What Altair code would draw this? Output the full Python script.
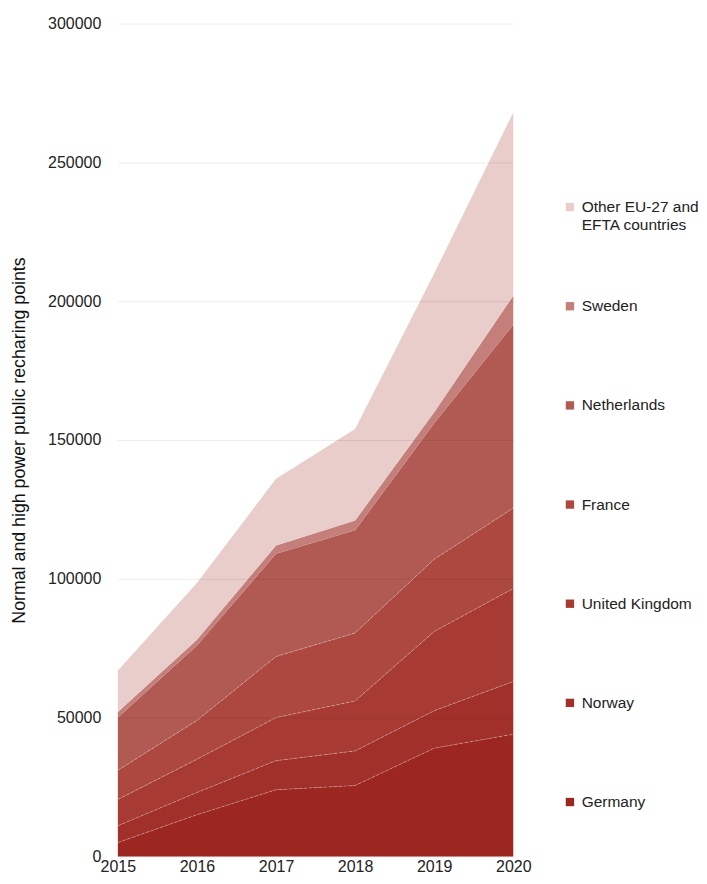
import altair as alt
import pandas as pd

years = [2015, 2016, 2017, 2018, 2019, 2020]
series = ["Germany", "Norway", "United Kingdom", "France", "Netherlands", "Sweden",
          "Other EU-27 and EFTA countries"]
germany = [5000, 15000, 24000, 25500, 39000, 44000]
norway = [6000, 8000, 10500, 12500, 13500, 19000]
uk = [9500, 12000, 15500, 18000, 28500, 33500]
france = [10500, 14000, 22000, 24500, 26000, 29000]
netherlands = [19000, 27000, 37000, 37000, 49000, 66000]
sweden = [2000, 2000, 3000, 3500, 4000, 10500]
other = [15000, 20500, 24000, 33000, 50000, 66000]
values = [germany, norway, uk, france, netherlands, sweden, other]
colors = ["#9C2620", "#A2302A", "#A73B34", "#AC4840", "#B15A53", "#C47F7A", "#E8CDCB"]
y_ticks = [0, 50000, 100000, 150000, 200000, 250000, 300000]

rows = []
for i, (name, vals) in enumerate(zip(series, values)):
    for yr, v in zip(years, vals):
        rows.append({"year": yr, "series": name, "value": v, "order": i})
df = pd.DataFrame(rows)

FONT = "Liberation Sans"

base = alt.Chart(df).transform_stack(
    stack="value", groupby=["year"], as_=["y0", "y1"],
    sort=[alt.SortField("order", order="ascending")]
)

x_enc = alt.X("year:O", scale=alt.Scale(padding=0),
              axis=alt.Axis(title=None, labelAngle=0, labelFontSize=16, labelColor="#222",
                            labelFont=FONT, ticks=False, domain=False, grid=False,
                            labelPadding=2))

area = base.mark_area(opacity=1, interpolate="linear").encode(
    x=x_enc,
    y=alt.Y("y1:Q", scale=alt.Scale(domain=[0, 300000], nice=False),
            axis=alt.Axis(values=y_ticks, format="d", title="Normal and high power public recharing points",
                          titleFontSize=17.8, titleFontWeight="normal", titleFont=FONT, titleColor="#111",
                          titlePadding=19.5, labelFontSize=16, labelFont=FONT, labelColor="#222",
                          labelPadding=17, ticks=False, domain=False, gridColor="#000000",
                          gridOpacity=0.08, gridWidth=1, zindex=1)),
    y2="y0:Q",
    color=alt.Color("series:N",
                    scale=alt.Scale(domain=series[::-1], range=colors[::-1]),
                    legend=alt.Legend(title=None, orient="none", legendX=445, legendY=176,
                                      symbolType="square", symbolSize=70, symbolStrokeWidth=0,
                                      labelFontSize=15.5, labelFont=FONT, labelColor="#222",
                                      labelOffset=4, rowPadding=65.3, gridAlign="all",
                                      labelLimit=300,
                                      labelExpr="datum.label == 'Other EU-27 and EFTA countries' ? ['Other EU-27 and', 'EFTA countries'] : datum.label")),
)

lines = base.transform_filter("datum.order <= 3").mark_line(
    color="white", strokeWidth=0.8, strokeDash=[3, 2], opacity=0.35
).encode(
    x=alt.X("year:O", scale=alt.Scale(padding=0)),
    y="y1:Q",
    detail="series:N",
)

chart = alt.layer(area, lines).properties(
    width=396, height=834,
    padding={"left": 2, "top": 7, "right": 0, "bottom": 0},
).configure_view(stroke=None)

chart.save("out.html", embed_options={"renderer": "svg", "actions": False})
